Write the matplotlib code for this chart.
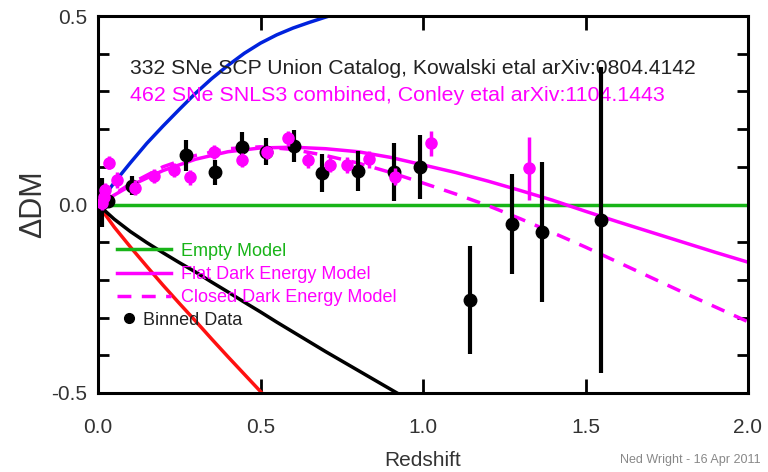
#!/usr/bin/env python

from matplotlib import pyplot as plt
from matplotlib.lines import Line2D

plt.rcParams['font.family'] = ['Liberation Sans', 'DejaVu Sans']

# Union catalog binned data (black)
unionZ = [0.012, 0.03, 0.105, 0.27, 0.36, 0.443, 0.517, 0.603, 0.69, 0.80,
          0.91, 0.99, 1.145, 1.275, 1.367, 1.548]
unionDM = [0.005, 0.01, 0.05, 0.13, 0.086, 0.152, 0.14, 0.155, 0.083, 0.088,
           0.086, 0.10, -0.253, -0.052, -0.072, -0.041]
unionErr = [0.065, 0.02, 0.026, 0.042, 0.033, 0.04, 0.036, 0.042, 0.05, 0.053,
            0.077, 0.085, 0.144, 0.133, 0.186, 0.405]

# SNLS3 binned data (magenta)
snlsZ = [0.012, 0.017, 0.022, 0.033, 0.058, 0.115, 0.171, 0.233, 0.284, 0.356,
         0.443, 0.52, 0.586, 0.647, 0.714, 0.767, 0.835, 0.914, 1.025, 1.325]
snlsDM = [0.005, 0.02, 0.038, 0.111, 0.065, 0.045, 0.076, 0.091, 0.072, 0.14,
          0.118, 0.138, 0.176, 0.118, 0.105, 0.105, 0.12, 0.074, 0.162, 0.096]
snlsErr = [0.02, 0.02, 0.02, 0.018, 0.02, 0.02, 0.018, 0.018, 0.02, 0.018,
           0.018, 0.018, 0.02, 0.02, 0.02, 0.022, 0.022, 0.022, 0.033, 0.084]

# model curves
emptyZ = [0.0, 2.0]
emptyDM = [0.0, 0.0]

modelZ = [0.0, 0.1, 0.2, 0.3, 0.4, 0.5, 0.6, 0.7, 0.8, 0.9, 1.0,
          1.1, 1.2, 1.3, 1.4, 1.5, 1.6, 1.7, 1.8, 1.9, 2.0]
flatDM = [0.0, 0.05, 0.09, 0.12, 0.14, 0.15, 0.152, 0.148, 0.14, 0.125, 0.105,
          0.085, 0.062, 0.037, 0.011, -0.018, -0.046, -0.073, -0.1, -0.127, -0.153]
closedDM = [0.0, 0.055, 0.1, 0.13, 0.148, 0.153, 0.146, 0.13, 0.11, 0.085, 0.057,
            0.028, -0.003, -0.038, -0.075, -0.113, -0.153, -0.193, -0.233, -0.272, -0.311]

curveZ = [0.0, 0.05, 0.1, 0.15, 0.2, 0.25, 0.3, 0.35, 0.4, 0.45, 0.5,
          0.55, 0.6, 0.65, 0.7, 0.75, 0.8, 0.85, 0.9, 0.95]
blueDM = [0.0, 0.058, 0.111, 0.162, 0.208, 0.252, 0.295, 0.334, 0.369, 0.401, 0.428,
          0.45, 0.468, 0.483, 0.497, 0.51, None, None, None, None]
redDM = [0.0, -0.06, -0.113, -0.164, -0.214, -0.262, -0.309, -0.357, -0.404, -0.45, -0.496,
         -0.54, None, None, None, None, None, None, None, None]
blackDM = [0.0, -0.039, -0.072, -0.101, -0.128, -0.154, -0.179, -0.206, -0.232, -0.259, -0.285,
           -0.312, -0.338, -0.364, -0.39, -0.415, -0.44, -0.465, -0.49, -0.515]

green = '#18b418'
magenta = '#ff00ff'
textGrey = '#333333'


def visible(z, dm):
    """Drop the grid points where a curve has left the plot."""
    pairs = [(a, b) for a, b in zip(z, dm) if b is not None]
    return [p[0] for p in pairs], [p[1] for p in pairs]


fig = plt.figure(figsize=(7.68, 4.72), dpi=100)
ax = fig.add_axes([98 / 768, 1 - 393 / 472, 650 / 768, 377 / 472])

ax.plot(*visible(curveZ, blueDM), color='#0022dd', lw=2.5)
ax.plot(*visible(curveZ, redDM), color='#ff1010', lw=2.5)
ax.plot(*visible(curveZ, blackDM), color='black', lw=2.5)
ax.plot(emptyZ, emptyDM, color=green, lw=2.5)
ax.plot(modelZ, flatDM, color=magenta, lw=2.5)
ax.plot(modelZ, closedDM, color=magenta, lw=2.5, dashes=(4, 3))

ax.errorbar(unionZ, unionDM, yerr=unionErr, fmt='o', color='black', ms=9,
            elinewidth=3, capsize=0, zorder=4)
ax.errorbar(snlsZ, snlsDM, yerr=snlsErr, fmt='o', color=magenta, ms=8,
            elinewidth=2.5, capsize=0, zorder=5)

ax.set_xlim(0, 2)
ax.set_ylim(-0.5, 0.5)
ax.set_xticks([0, 0.5, 1.0, 1.5, 2.0])
ax.set_xticklabels(['0.0', '0.5', '1.0', '1.5', '2.0'])
ax.set_yticks([-0.5, 0.0, 0.5])
ax.set_yticklabels(['-0.5', '0.0', '0.5'])
ax.set_yticks([-0.4, -0.3, -0.2, -0.1, 0.1, 0.2, 0.3, 0.4], minor=True)
ax.tick_params(axis='x', which='major', direction='in', length=10, width=2,
               top=True, pad=18, labelsize=15, labelcolor=textGrey)
ax.tick_params(axis='y', which='both', direction='in', length=8, width=2,
               right=True, pad=8, labelsize=15, labelcolor=textGrey)
for s in ax.spines.values():
    s.set_linewidth(2.2)

ax.set_xlabel('Redshift', fontsize=15, color=textGrey, labelpad=10)
ax.set_ylabel('ΔDM', fontsize=22, color=textGrey, labelpad=2)

ax.text(0.098, 0.362, '332 SNe SCP Union Catalog, Kowalski etal arXiv:0804.4142',
        fontsize=15.2, color='#222222', va='center')
ax.text(0.098, 0.29, '462 SNe SNLS3 combined, Conley etal arXiv:1104.1443',
        fontsize=15.4, color=magenta, va='center')

handles = [Line2D([], [], color=green, lw=2.5),
           Line2D([], [], color=magenta, lw=2.5),
           Line2D([], [], color=magenta, lw=2.5, dashes=(4, 3))]
leg = ax.legend(handles, ['Empty Model', 'Flat Dark Energy Model', 'Closed Dark Energy Model'],
                loc='upper left', bbox_to_anchor=(0.018, 0.418), frameon=False,
                fontsize=13, handlelength=3.0, handletextpad=0.55, labelspacing=0.35,
                labelcolor='linecolor', borderaxespad=0)
ax.add_artist(leg)
dotHandle = Line2D([], [], color='black', marker='o', ms=7, lw=0)
ax.legend([dotHandle], ['Binned Data'], loc='upper left', bbox_to_anchor=(0.028, 0.235),
          frameon=False, fontsize=13, handlelength=0.6, handletextpad=0.5,
          labelcolor='#222222', borderaxespad=0)

fig.text(0.99, 0.02, 'Ned Wright - 16 Apr 2011', fontsize=9, color='#888888', ha='right')

fig.savefig('out.png', dpi=100)
